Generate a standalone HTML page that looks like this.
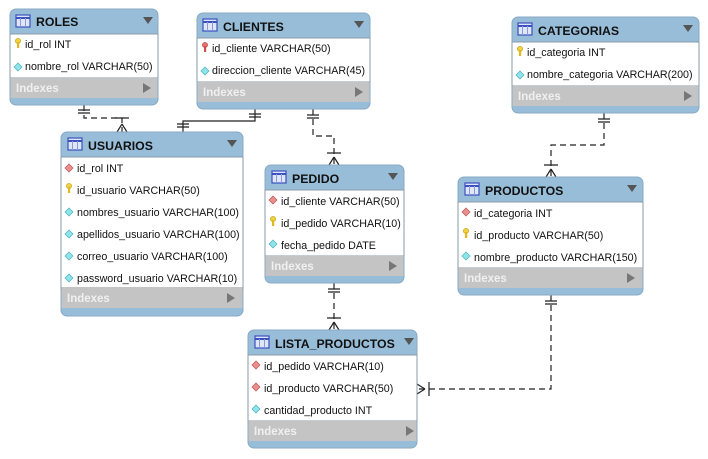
<!DOCTYPE html>
<html><head><meta charset="utf-8"><style>
body{margin:0;background:#fff;}
svg{display:block;font-family:"Liberation Sans",sans-serif;}
.h{font-weight:bold;font-size:12.3px;fill:#111;}
.r{font-size:10.7px;fill:#111;}
.ix{font-weight:bold;font-size:11.5px;fill:#f0f0f0;}
</style></head><body>
<svg width="708" height="459" viewBox="0 0 708 459" xmlns="http://www.w3.org/2000/svg">
<defs>
<g id="tbl-ico"><rect x="0" y="0" width="14" height="12" fill="#dfe6f7" stroke="#3a50c0" stroke-width="1.2"/><line x1="0" y1="3" x2="14" y2="3" stroke="#3a50c0" stroke-width="2"/><line x1="4.5" y1="3" x2="4.5" y2="12" stroke="#8a9ad8"/><line x1="9.5" y1="3" x2="9.5" y2="12" stroke="#8a9ad8"/></g>
<g id="key"><circle cx="3" cy="3" r="2.6" fill="#f2d23a" stroke="#b89a10" stroke-width="0.6"/><rect x="2" y="4" width="2.2" height="6" fill="#e0b820"/></g>
<g id="rkey"><circle cx="3" cy="3" r="2.6" fill="#e8706a" stroke="#b04040" stroke-width="0.6"/><rect x="2" y="4" width="2.2" height="6" fill="#d05050"/></g>
<g id="cd"><path d="M4 0 L8 4 L4 8 L0 4Z" fill="#8fe4ea" stroke="#4ab0bc" stroke-width="0.7"/></g>
<g id="rd"><path d="M4 0 L8 4 L4 8 L0 4Z" fill="#e89090" stroke="#c05050" stroke-width="0.7"/></g>
</defs>

<g fill="none" stroke="#222" stroke-width="1.2">
<path d="M84 105 V118 H122 V132" stroke-dasharray="6,4"/>
<path d="M78 110 H90 M78 113 H90"/>
<path d="M115 118 H129 M122 124 L117 132 M122 124 L127 132"/>
<path d="M255 109 V121 H183 V132"/>
<path d="M249 114 H261 M249 117 H261 M177 124 H189 M177 127 H189"/>
<path d="M313 109 V136 H334 V165" stroke-dasharray="6,4"/>
<path d="M307 115 H319 M307 118 H319 M327 153 H341 M334 157 L329 165 M334 157 L339 165"/>
<path d="M334 283 V330" stroke-dasharray="6,4"/>
<path d="M328 289 H340 M328 292 H340 M327 318 H341 M334 322 L329 330 M334 322 L339 330"/>
<path d="M604 113 V145 H551 V177" stroke-dasharray="6,4"/>
<path d="M598 119 H610 M598 122 H610 M544 165 H558 M551 169 L546 177 M551 169 L556 177"/>
<path d="M551 295 V389 H417" stroke-dasharray="6,4"/>
<path d="M545 301 H557 M545 304 H557 M429 382 V396 M425 389 L417 384 M425 389 L417 394"/>
</g>

<g transform="translate(10,9)">
<rect x="0" y="0" width="148" height="96" rx="6" fill="#98bdd8" stroke="#8aaac4"/>
<rect x="0" y="25" width="148" height="44" fill="#fff" stroke="#8a9aa8"/>
<rect x="0.5" y="69" width="147" height="20" fill="#c4c4c4"/>
<use href="#tbl-ico" x="6" y="6"/><text class="h" x="26" y="17">ROLES</text>
<path d="M133 8 h10 l-5 7z" fill="#555"/>
<use href="#key" x="5" y="29"/><text class="r" x="15" y="39">id_rol INT</text>
<use href="#cd" x="4" y="54"/><text class="r" x="15" y="61">nombre_rol VARCHAR(50)</text>
<text class="ix" x="6" y="83">Indexes</text><path d="M133 74 l8 5 l-8 5z" fill="#777"/>
</g>

<g transform="translate(197,13)">
<rect x="0" y="0" width="173" height="96" rx="6" fill="#98bdd8" stroke="#8aaac4"/>
<rect x="0" y="25" width="173" height="44" fill="#fff" stroke="#8a9aa8"/>
<rect x="0.5" y="69" width="172" height="20" fill="#c4c4c4"/>
<use href="#tbl-ico" x="6" y="6"/><text class="h" x="26" y="18">CLIENTES</text>
<path d="M157 8 h10 l-5 7z" fill="#555"/>
<use href="#rkey" x="5" y="29"/><text class="r" x="15" y="39">id_cliente VARCHAR(50)</text>
<use href="#cd" x="4" y="54"/><text class="r" x="15" y="61">direccion_cliente VARCHAR(45)</text>
<text class="ix" x="6" y="83">Indexes</text><path d="M158 74 l8 5 l-8 5z" fill="#777"/>
</g>

<g transform="translate(512,17)">
<rect x="0" y="0" width="187" height="96" rx="6" fill="#98bdd8" stroke="#8aaac4"/>
<rect x="0" y="25" width="187" height="44" fill="#fff" stroke="#8a9aa8"/>
<rect x="0.5" y="69" width="186" height="20" fill="#c4c4c4"/>
<use href="#tbl-ico" x="6" y="6"/><text class="h" x="26" y="18">CATEGORIAS</text>
<path d="M171 8 h10 l-5 7z" fill="#555"/>
<use href="#key" x="5" y="29"/><text class="r" x="15" y="39">id_categoria INT</text>
<use href="#cd" x="4" y="54"/><text class="r" x="15" y="61">nombre_categoria VARCHAR(200)</text>
<text class="ix" x="6" y="83">Indexes</text><path d="M172 74 l8 5 l-8 5z" fill="#777"/>
</g>

<g transform="translate(61,132)">
<rect x="0" y="0" width="182" height="184" rx="6" fill="#98bdd8" stroke="#8aaac4"/>
<rect x="0" y="25" width="182" height="132" fill="#fff" stroke="#8a9aa8"/>
<rect x="0.5" y="155" width="181" height="21" fill="#c4c4c4"/>
<use href="#tbl-ico" x="7" y="6"/><text class="h" x="27" y="18">USUARIOS</text>
<path d="M166 8 h10 l-5 7z" fill="#555"/>
<use href="#rd" x="4" y="32"/><text class="r" x="16" y="40">id_rol INT</text>
<use href="#key" x="5" y="51"/><text class="r" x="16" y="62">id_usuario VARCHAR(50)</text>
<use href="#cd" x="4" y="76"/><text class="r" x="16" y="84">nombres_usuario VARCHAR(100)</text>
<use href="#cd" x="4" y="98"/><text class="r" x="16" y="106">apellidos_usuario VARCHAR(100)</text>
<use href="#cd" x="4" y="120"/><text class="r" x="16" y="128">correo_usuario VARCHAR(100)</text>
<use href="#cd" x="4" y="142"/><text class="r" x="16" y="150">password_usuario VARCHAR(10)</text>
<text class="ix" x="6" y="170">Indexes</text><path d="M166 161 l8 5 l-8 5z" fill="#777"/>
</g>

<g transform="translate(265,165)">
<rect x="0" y="0" width="139" height="118" rx="6" fill="#98bdd8" stroke="#8aaac4"/>
<rect x="0" y="25" width="139" height="66" fill="#fff" stroke="#8a9aa8"/>
<rect x="0.5" y="91" width="138" height="20" fill="#c4c4c4"/>
<use href="#tbl-ico" x="7" y="6"/><text class="h" x="27" y="18">PEDIDO</text>
<path d="M123 8 h10 l-5 7z" fill="#555"/>
<use href="#rd" x="4" y="31"/><text class="r" x="16" y="40">id_cliente VARCHAR(50)</text>
<use href="#key" x="5" y="51"/><text class="r" x="16" y="62">id_pedido VARCHAR(10)</text>
<use href="#cd" x="4" y="75"/><text class="r" x="16" y="84">fecha_pedido DATE</text>
<text class="ix" x="6" y="105">Indexes</text><path d="M124 96 l8 5 l-8 5z" fill="#777"/>
</g>

<g transform="translate(458,177)">
<rect x="0" y="0" width="185" height="118" rx="6" fill="#98bdd8" stroke="#8aaac4"/>
<rect x="0" y="25" width="185" height="66" fill="#fff" stroke="#8a9aa8"/>
<rect x="0.5" y="91" width="184" height="20" fill="#c4c4c4"/>
<use href="#tbl-ico" x="7" y="6"/><text class="h" x="27" y="18">PRODUCTOS</text>
<path d="M169 8 h10 l-5 7z" fill="#555"/>
<use href="#rd" x="4" y="31"/><text class="r" x="16" y="40">id_categoria INT</text>
<use href="#key" x="5" y="51"/><text class="r" x="16" y="62">id_producto VARCHAR(50)</text>
<use href="#cd" x="4" y="75"/><text class="r" x="16" y="84">nombre_producto VARCHAR(150)</text>
<text class="ix" x="6" y="105">Indexes</text><path d="M169 96 l8 5 l-8 5z" fill="#777"/>
</g>

<g transform="translate(248,330)">
<rect x="0" y="0" width="169" height="118" rx="6" fill="#98bdd8" stroke="#8aaac4"/>
<rect x="0" y="25" width="169" height="66" fill="#fff" stroke="#8a9aa8"/>
<rect x="0.5" y="91" width="168" height="20" fill="#c4c4c4"/>
<use href="#tbl-ico" x="7" y="6"/><text class="h" x="27" y="18">LISTA_PRODUCTOS</text>
<path d="M156 8 h10 l-5 7z" fill="#555"/>
<use href="#rd" x="4" y="31"/><text class="r" x="16" y="40">id_pedido VARCHAR(10)</text>
<use href="#rd" x="4" y="53"/><text class="r" x="16" y="62">id_producto VARCHAR(50)</text>
<use href="#cd" x="4" y="75"/><text class="r" x="16" y="84">cantidad_producto INT</text>
<text class="ix" x="6" y="105">Indexes</text><path d="M158 96 l8 5 l-8 5z" fill="#777"/>
</g>
</svg>
</body></html>
